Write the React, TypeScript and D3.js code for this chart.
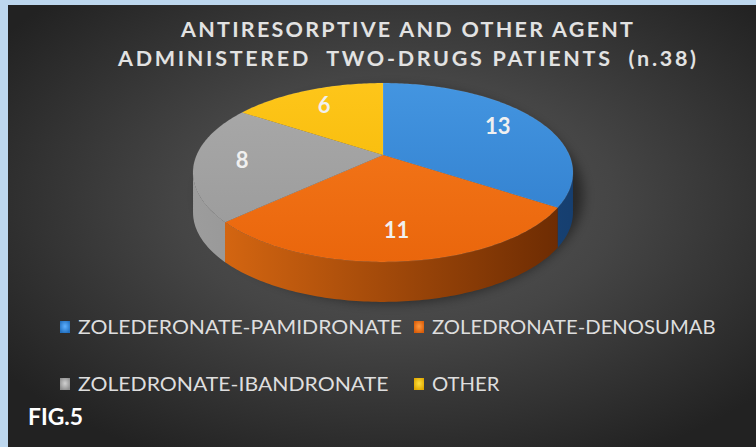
import React from "react";
import * as d3 from "d3";

const categories = [
  "ZOLEDERONATE-PAMIDRONATE",
  "ZOLEDRONATE-DENOSUMAB",
  "ZOLEDRONATE-IBANDRONATE",
  "OTHER",
];
const values = [13, 11, 8, 6];
const titleLines = ["ANTIRESORPTIVE AND OTHER AGENT", "ADMINISTERED  TWO-DRUGS PATIENTS  (n.38)"];
const figLabel = "FIG.5";

const topColors = [
  ["#4597e2", "#2f7ccb"],
  ["#f77c1e", "#ea660c"],
  ["#ababab", "#999999"],
  ["#ffc71c", "#f2b500"],
];
const sideColors = [
  ["#2466ad", "#163f70"],
  ["#dc6a12", "#6a2a02"],
  ["#9c9c9c", "#7c7c7c"],
  ["#d9a200", "#9a7000"],
];
const markerColors = [
  ["#5eb0ff", "#2270c0"],
  ["#ff9a40", "#d95c08"],
  ["#d0d0d0", "#8e8e8e"],
  ["#ffe040", "#e0a800"],
];

const W = 756;
const H = 447;
const CX = 383;
const CY = 155;
const RX = 186.3;
const RY = 86;
const K = 0.1955;
const DEPTH = 40;

function proj(theta: number, f = 1, dy = 0): [number, number] {
  const c = Math.cos(theta);
  const s = Math.sin(theta);
  const sc = 1 / (1 + K * f * c);
  return [CX + RX * f * s * sc, CY - RY * f * c * sc + dy];
}

function arcPts(a0: number, a1: number, dy = 0): [number, number][] {
  const n = Math.max(2, Math.ceil(Math.abs(a1 - a0) / (Math.PI / 180)));
  const pts: [number, number][] = [];
  for (let i = 0; i <= n; i++) {
    pts.push(proj(a0 + ((a1 - a0) * i) / n, 1, dy));
  }
  return pts;
}

const line = d3.line<[number, number]>().x((d) => d[0]).y((d) => d[1]);

export default function App() {
  const arcs = d3.pie<number>().sort(null).startAngle(0).endAngle(Math.PI * 2)(values);
  const T1 = Math.acos(-K);
  const T2 = Math.PI * 2 - T1;

  const sides = arcs.map((a, i) => {
    const lo = Math.max(a.startAngle, T1);
    const hi = Math.min(a.endAngle, T2);
    if (lo >= hi) return null;
    const top = arcPts(lo, hi);
    const bot = arcPts(hi, lo, DEPTH);
    return <path key={"s" + i} d={line([...top, ...bot])! + "Z"} fill={`url(#side${i})`} />;
  });

  const tops = arcs.map((a, i) => {
    const pts: [number, number][] = [[CX, CY], ...arcPts(a.startAngle, a.endAngle)];
    return (
      <path
        key={"t" + i}
        d={line(pts)! + "Z"}
        fill={`url(#top${i})`}
        stroke="rgba(255,255,255,0.12)"
        strokeWidth={0.6}
      />
    );
  });

  const labels = arcs.map((a, i) => {
    const mid = (a.startAngle + a.endAngle) / 2;
    const [x, y] = proj(mid, 0.75);
    return (
      <text
        key={"l" + i}
        x={x}
        y={y}
        dy="0.36em"
        textAnchor="middle"
        fontFamily="Lato, 'Open Sans', sans-serif"
        fontWeight={700}
        fontSize={22}
        fill="#f0f0f0"
      >
        {values[i]}
      </text>
    );
  });

  const legendX = [60, 414];
  const legendY = [327, 384];
  const charW = 13.5;

  return (
    <svg
      width={W}
      height={H}
      viewBox={`0 0 ${W} ${H}`}
      style={{ position: "absolute", left: 0, top: 0 }}
    >
      <defs>
        <radialGradient id="bg" cx="52%" cy="45%" r="65%">
          <stop offset="0%" stopColor="#585858" />
          <stop offset="45%" stopColor="#454545" />
          <stop offset="100%" stopColor="#222222" />
        </radialGradient>
        {topColors.map((c, i) => (
          <linearGradient key={i} id={`top${i}`} gradientUnits="userSpaceOnUse" x1={0} y1={CY - RY} x2={0} y2={CY + RY * 1.25}>
            <stop offset="0%" stopColor={c[0]} />
            <stop offset="100%" stopColor={c[1]} />
          </linearGradient>
        ))}
        {sideColors.map((c, i) => (
          <linearGradient key={i} id={`side${i}`} gradientUnits="userSpaceOnUse" x1={CX - RX} y1={0} x2={CX + RX} y2={0}>
            <stop offset="0%" stopColor={c[0]} />
            <stop offset="100%" stopColor={c[1]} />
          </linearGradient>
        ))}
        {markerColors.map((c, i) => (
          <radialGradient key={i} id={`mk${i}`} cx="50%" cy="45%" r="60%">
            <stop offset="0%" stopColor={c[0]} />
            <stop offset="100%" stopColor={c[1]} />
          </radialGradient>
        ))}
        <filter id="blur" x="-20%" y="-20%" width="140%" height="140%">
          <feGaussianBlur stdDeviation="6" />
        </filter>
      </defs>
      <rect x={0} y={0} width={W} height={H} fill="#bdd7ee" />
      <rect x={8} y={5} width={W - 8} height={H - 5} fill="url(#bg)" />

      {titleLines.map((t, i) => (
        <text
          key={i}
          x={i === 0 ? 181 : 118}
          y={i === 0 ? 37 : 66}
          textLength={i === 0 ? 452 : 578}
          lengthAdjust="spacing"
          fontFamily="Lato, 'Open Sans', sans-serif"
          fontWeight={700}
          fontSize={21.5}
          fill="#e2e2e2"
          style={{ whiteSpace: "pre" }}
        >
          {t}
        </text>
      ))}

      <ellipse cx={CX + 8} cy={CY + 40} rx={RX + 6} ry={RY + 22} fill="rgba(0,0,0,0.45)" filter="url(#blur)" />
      {sides}
      {tops}
      {labels}

      {categories.map((c, i) => {
        const x = legendX[i % 2];
        const y = legendY[Math.floor(i / 2)];
        return (
          <g key={c}>
            <rect x={x} y={y - 6} width={10} height={12} fill={`url(#mk${i})`} />
            <text
              x={x + 18}
              y={y + 6.5}
              textLength={c.length * charW}
              lengthAdjust="spacingAndGlyphs"
              fontFamily="Lato, 'Open Sans', sans-serif"
              fontSize={19.5}
              fill="#dedede"
            >
              {c}
            </text>
          </g>
        );
      })}

      <text
        x={28}
        y={425}
        textLength={55}
        lengthAdjust="spacingAndGlyphs"
        fontFamily="Lato, 'Open Sans', sans-serif"
        fontWeight={700}
        fontSize={23}
        fill="#ffffff"
      >
        {figLabel}
      </text>
    </svg>
  );
}
